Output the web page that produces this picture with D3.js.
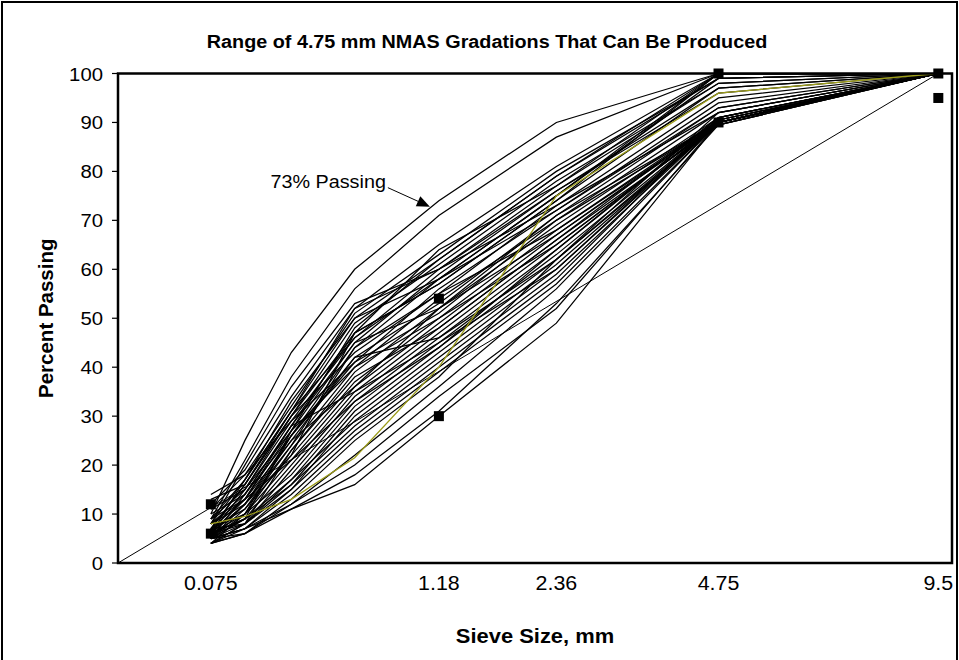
<!DOCTYPE html>
<html>
<head>
  <title>4.75 mm NMAS gradations</title>
  <style type="text/css">
    body { margin: 0; background: #fff; }
    svg { display: block; font-family: Arial, "Liberation Sans", sans-serif; }
  </style>
</head>
<body>

<div id="chart"></div>

<script src="https://d3js.org/d3.v7.min.js"></script>
<script type="text/javascript">
// sieve sizes (mm) for every gradation
var sieves = [0.075, 0.15, 0.3, 0.6, 1.18, 2.36, 4.75, 9.5];

// percent passing, one row per trial gradation
var gradations = [
  [10, 25, 43, 60, 74, 90, 100, 100],
  [9, 21, 38, 56, 71, 87, 100, 100],
  [12, 19, 34, 52, 65, 81, 100, 100],
  [11, 18, 32, 51, 63, 80, 99, 100],
  [8, 17, 31, 50, 62, 79, 100, 100],
  [13, 16, 30, 49, 61, 78, 98, 100],
  [7, 16, 30, 47, 64, 77, 100, 100],
  [9, 17, 31, 46, 60, 76, 97, 100],
  [6, 15, 29, 46, 58, 75, 99, 100],
  [10, 14, 28, 47, 57, 74, 100, 100],
  [8, 13, 27, 45, 59, 76, 96, 100],
  [5, 12, 26, 44, 55, 73, 95, 100],
  [14, 18, 29, 41, 56, 72, 94, 100],
  [6, 12, 25, 42, 53, 71, 93, 100],
  [7, 11, 24, 40, 54, 70, 92, 100],
  [5, 10, 23, 39, 52, 69, 91, 100],
  [8, 12, 22, 37, 50, 68, 90, 100],
  [6, 10, 21, 36, 49, 67, 90.5, 100],
  [5, 9, 20, 35, 48, 66, 89.5, 100],
  [4, 8, 19, 34, 47, 65, 90, 100],
  [7, 10, 18, 33, 46, 64, 90.5, 100],
  [5, 9, 17, 32, 45, 63, 90, 100],
  [6, 8, 16, 31, 44, 62, 89.5, 100],
  [4, 7, 15, 30, 43, 61, 90, 100],
  [5, 8, 17, 29, 42, 60, 90.5, 100],
  [6, 9, 16, 28, 41, 59, 90, 100],
  [7, 8, 15, 27, 40, 58, 91, 100],
  [5, 7, 14, 26, 39, 57, 90, 100],
  [4, 6, 13, 25, 38, 62, 92, 100],
  [5, 6, 12, 22, 36, 56, 90, 100],
  [5, 7, 12, 20, 34, 52, 90, 100],
  [4, 6, 11, 18, 31, 53, 89.5, 100],
  [5, 7, 11, 16, 30, 49, 90, 100],
  [6, 12, 24, 44, 58, 72, 93, 100],
  [8, 14, 26, 41, 51, 70, 90, 100],
  [9, 15, 30, 43, 55, 68, 90.5, 100],
  [5, 11, 22, 47, 57, 74, 97, 100],
  [7, 13, 25, 36, 52, 71, 90, 100],
  [6, 9, 27, 40, 50, 65, 90, 100],
  [4, 8, 23, 38, 48, 66, 91, 100],
  [8, 20, 36, 53, 60, 77, 98, 100],
  [6, 17, 33, 50, 58, 75, 100, 100],
  [11, 15, 27, 48, 62, 79, 99, 100],
  [5, 14, 28, 45, 52, 67, 90, 100],
  [7, 16, 31, 52, 60, 73, 92, 100],
  [4, 10, 26, 42, 46, 62, 90, 100],
  [6, 13, 28, 35, 45, 60, 90, 100],
  [9, 13, 21, 33, 44, 64, 91, 100]
];

// the one gradation drawn in olive
var highlight = [8, 9.5, 13, 21.5, 40, 75, 96, 100];

// maximum density line, 0 to 9.5 mm
var maxDensitySieves = [0, 9.5];
var maxDensityPassing = [0, 100];

// control points
var controlSieves = [0.075, 0.075, 1.18, 1.18, 4.75, 4.75, 9.5, 9.5];
var controlPassing = [12, 6, 54, 30, 100, 90, 100, 95];

var xTickValues = [0.075, 1.18, 2.36, 4.75, 9.5];
var xTickLabels = ["0.075", "1.18", "2.36", "4.75", "9.5"];
var yTicks = [0, 10, 20, 30, 40, 50, 60, 70, 80, 90, 100];

var note = {label: "73% Passing", sieve: 1.18, pct: 73};

var width = 959, height = 660;
var plotLeft = 118, plotRight = 952, plotTop = 73.5, plotBottom = 563;
var stretch = 1.07; // text in the source is a bit wide

// 0.45 power chart, axis runs to 2.8 in transformed units
var x = d3.scalePow().exponent(0.45)
  .domain([0, Math.pow(2.8, 1 / 0.45)])
  .range([plotLeft, plotRight]);
var y = d3.scaleLinear().domain([0, 100]).range([plotBottom, plotTop]);

var svg = d3.select("#chart")
  .append("svg")
  .attr("width", width)
  .attr("height", height);

function label(g, tx, ty, txt) {
  return g.append("text")
    .attr("transform", "translate(" + tx + "," + ty + ")scale(" + stretch + ",1)")
    .text(txt);
}

// outer chart border
svg.append("rect")
  .attr("x", 2).attr("y", 2)
  .attr("width", width - 4).attr("height", height + 10)
  .attr("fill", "none").attr("stroke", "#000").attr("stroke-width", 2);

var line = d3.line()
  .x(function (d) { return x(d[0]); })
  .y(function (d) { return y(d[1]); });

var plot = svg.append("g");

plot.append("path")
  .datum(maxDensitySieves.map(function (s, i) { return [s, maxDensityPassing[i]]; }))
  .attr("d", line)
  .attr("fill", "none").attr("stroke", "#000").attr("stroke-width", 1);

plot.selectAll(".grad")
  .data(gradations)
  .enter()
  .append("path")
    .attr("class", "grad")
    .attr("d", function (d) { return line(sieves.map(function (s, i) { return [s, d[i]]; })); })
    .attr("fill", "none")
    .attr("stroke", "#000")
    .attr("stroke-width", 1.25);

plot.append("path")
  .datum(sieves.map(function (s, i) { return [s, highlight[i]]; }))
  .attr("d", line)
  .attr("fill", "none").attr("stroke", "#9c9c1a").attr("stroke-width", 1.3);

// plot area frame
svg.append("rect")
  .attr("x", plotLeft).attr("y", plotTop)
  .attr("width", plotRight - plotLeft).attr("height", plotBottom - plotTop)
  .attr("fill", "none").attr("stroke", "#000").attr("stroke-width", 2.5);

// control point markers
svg.selectAll(".ctrl")
  .data(controlSieves)
  .enter()
  .append("rect")
    .attr("class", "ctrl")
    .attr("x", function (d) { return x(d) - 5; })
    .attr("y", function (d, i) { return y(controlPassing[i]) - 5; })
    .attr("width", 10).attr("height", 10)
    .attr("fill", "#000");

// y axis
var yAxis = svg.append("g");
yAxis.selectAll("line")
  .data(yTicks)
  .enter()
  .append("line")
    .attr("x1", plotLeft - 6).attr("x2", plotLeft)
    .attr("y1", function (d) { return y(d); })
    .attr("y2", function (d) { return y(d); })
    .attr("stroke", "#000").attr("stroke-width", 1.2);
yTicks.forEach(function (d) {
  label(yAxis, plotLeft - 15, y(d) + 7, d)
    .attr("text-anchor", "end")
    .attr("font-size", 19);
});

// x labels
var xAxis = svg.append("g");
xTickValues.forEach(function (d, i) {
  label(xAxis, x(d), 590, xTickLabels[i])
    .attr("text-anchor", "middle")
    .attr("font-size", 20);
});

// titles
label(svg, 487, 48, "Range of 4.75 mm NMAS Gradations That Can Be Produced")
  .attr("text-anchor", "middle")
  .attr("font-size", 18.5)
  .attr("font-weight", "bold");

label(svg, 535, 643, "Sieve Size, mm")
  .attr("text-anchor", "middle")
  .attr("font-size", 20.5)
  .attr("font-weight", "bold");

svg.append("text")
  .attr("transform", "translate(53," + ((plotTop + plotBottom) / 2) + ")rotate(-90)")
  .attr("text-anchor", "middle")
  .attr("font-size", 20.5)
  .attr("font-weight", "bold")
  .text("Percent Passing");

// annotation with arrow
var tipX = x(note.sieve) - 9, tipY = y(note.pct) + 1;
var startX = tipX - 42, startY = tipY - 19;
label(svg, startX - 2, startY, note.label)
  .attr("text-anchor", "end")
  .attr("font-size", 18.5);
var ang = Math.atan2(tipY - startY, tipX - startX);
var headLen = 13, headW = 5.5;
var bx = tipX - headLen * Math.cos(ang), by = tipY - headLen * Math.sin(ang);
svg.append("line")
  .attr("x1", startX).attr("y1", startY)
  .attr("x2", bx).attr("y2", by)
  .attr("stroke", "#000").attr("stroke-width", 1);
svg.append("path")
  .attr("d", "M" + tipX + "," + tipY +
    "L" + (bx + headW * Math.sin(ang)) + "," + (by - headW * Math.cos(ang)) +
    "L" + (bx - headW * Math.sin(ang)) + "," + (by + headW * Math.cos(ang)) + "Z")
  .attr("fill", "#000");
</script>
</body>
</html>
